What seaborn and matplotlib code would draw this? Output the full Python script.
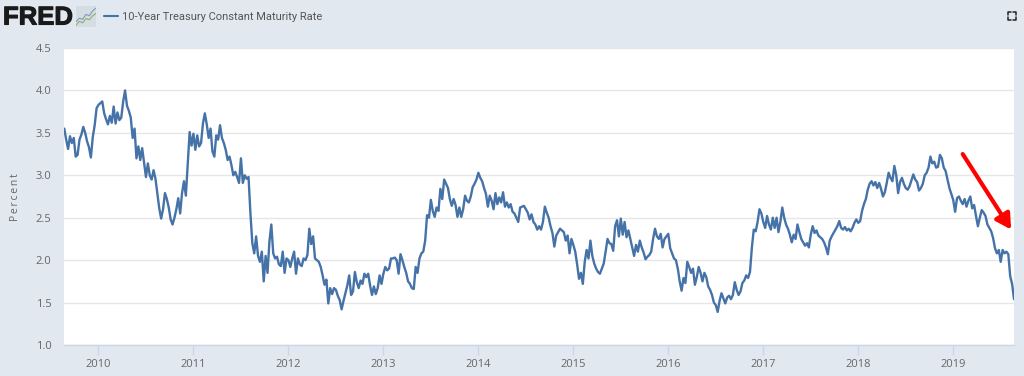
import matplotlib
matplotlib.use('Agg')
import matplotlib.pyplot as plt
import matplotlib.patheffects as pe
import pandas as pd
import seaborn as sns
from matplotlib.lines import Line2D

# taux, un releve tous les 0.02 an
rates_2009 = [3.55, 3.42, 3.31, 3.46, 3.38, 3.44, 3.22, 3.24, 3.42, 3.48, 3.57, 3.50, 3.40, 3.33, 3.21, 3.45, 3.59, 3.79]
rates_2010 = [3.83, 3.85, 3.87, 3.73, 3.66, 3.60, 3.70, 3.62, 3.81, 3.61,
              3.74, 3.65, 3.68, 3.87, 4.00, 3.82, 3.76, 3.68, 3.44, 3.55,
              3.20, 3.34, 3.18, 3.32, 3.15, 2.98, 3.14, 3.00, 2.95, 3.06,
              2.96, 2.79, 2.61, 2.49, 2.60, 2.79, 2.72, 2.62, 2.48, 2.42,
              2.50, 2.60, 2.73, 2.55, 2.79, 2.93, 2.76, 3.14, 3.51, 3.35]
rates_2011 = [3.49, 3.30, 3.47, 3.34, 3.38, 3.61, 3.73, 3.60, 3.44, 3.55,
              3.28, 3.22, 3.47, 3.42, 3.59, 3.44, 3.38, 3.30, 3.18, 3.22,
              3.12, 3.00, 3.04, 2.98, 2.91, 3.20, 2.91, 3.00, 2.96, 2.98,
              2.55, 2.20, 2.08, 2.28, 2.05, 1.98, 2.10, 1.75, 2.05, 1.85,
              2.22, 2.42, 2.08, 2.02, 2.04, 1.95, 1.93, 2.10, 1.85, 2.02]
rates_2012 = [2.00, 1.92, 2.02, 2.10, 1.84, 2.02, 1.95, 1.93, 2.02, 2.00,
              2.06, 2.37, 2.19, 2.28, 2.02, 2.00, 1.98, 1.92, 1.82, 1.71,
              1.77, 1.49, 1.67, 1.60, 1.67, 1.65, 1.58, 1.53, 1.42, 1.52,
              1.61, 1.70, 1.82, 1.59, 1.63, 1.86, 1.74, 1.67, 1.76, 1.72,
              1.84, 1.80, 1.84, 1.70, 1.59, 1.69, 1.60, 1.67, 1.82, 1.72]
rates_2013 = [1.84, 1.92, 1.88, 1.90, 2.02, 2.02, 2.03, 2.00, 1.84, 2.07,
              2.00, 1.92, 1.85, 1.75, 1.72, 1.67, 1.66, 1.92, 1.85, 2.02,
              2.08, 2.10, 2.23, 2.53, 2.50, 2.71, 2.58, 2.51, 2.62, 2.58,
              2.84, 2.72, 2.95, 2.90, 2.85, 2.72, 2.64, 2.72, 2.65, 2.51,
              2.62, 2.51, 2.60, 2.76, 2.70, 2.68, 2.75, 2.86, 2.90, 2.95]
rates_2014 = [3.03, 2.97, 2.93, 2.85, 2.78, 2.63, 2.76, 2.70, 2.60, 2.79,
              2.66, 2.74, 2.68, 2.80, 2.63, 2.68, 2.62, 2.66, 2.57, 2.55,
              2.50, 2.45, 2.62, 2.63, 2.64, 2.60, 2.56, 2.48, 2.54, 2.45,
              2.42, 2.36, 2.40, 2.36, 2.45, 2.63, 2.56, 2.50, 2.40, 2.32,
              2.16, 2.29, 2.33, 2.37, 2.35, 2.33, 2.23, 2.29, 2.08, 2.25]
rates_2015 = [2.18, 2.10, 1.95, 1.78, 1.85, 1.72, 1.98, 2.12, 2.02, 2.23,
              2.05, 1.96, 1.90, 1.86, 1.84, 1.90, 1.96, 2.10, 2.25, 2.20,
              2.19, 2.11, 2.40, 2.47, 2.28, 2.49, 2.30, 2.45, 2.27, 2.35,
              2.25, 2.15, 2.05, 2.18, 2.10, 2.23, 2.15, 2.09, 2.01, 2.04,
              2.06, 2.10, 2.25, 2.37, 2.28, 2.25, 2.31, 2.15, 2.25, 2.28]
rates_2016 = [2.31, 2.14, 2.08, 2.02, 2.00, 1.90, 1.75, 1.64, 1.79, 1.73,
              1.98, 1.92, 1.85, 1.90, 1.71, 1.80, 1.92, 1.85, 1.75, 1.85,
              1.80, 1.69, 1.65, 1.59, 1.50, 1.47, 1.39, 1.52, 1.61, 1.55,
              1.49, 1.56, 1.58, 1.54, 1.59, 1.74, 1.65, 1.59, 1.63, 1.73,
              1.76, 1.82, 1.79, 1.86, 2.15, 2.36, 2.34, 2.45, 2.60, 2.55]
rates_2017 = [2.45, 2.38, 2.52, 2.42, 2.36, 2.50, 2.38, 2.50, 2.33, 2.45,
              2.62, 2.50, 2.42, 2.37, 2.30, 2.21, 2.30, 2.25, 2.42, 2.33,
              2.25, 2.21, 2.17, 2.20, 2.15, 2.30, 2.40, 2.32, 2.35, 2.29,
              2.27, 2.25, 2.21, 2.15, 2.07, 2.23, 2.28, 2.32, 2.36, 2.40,
              2.46, 2.38, 2.36, 2.39, 2.35, 2.37, 2.34, 2.38, 2.44, 2.48]
rates_2018 = [2.44, 2.46, 2.58, 2.66, 2.72, 2.83, 2.90, 2.93, 2.88, 2.92,
              2.85, 2.91, 2.84, 2.75, 2.80, 2.91, 3.03, 2.97, 2.93, 3.11,
              3.00, 2.79, 2.92, 2.97, 2.90, 2.85, 2.83, 2.87, 2.94, 3.01,
              2.95, 2.92, 2.82, 2.85, 2.90, 3.00, 3.03, 3.09, 3.22, 3.14,
              3.16, 3.09, 3.10, 3.24, 3.20, 3.09, 3.05, 2.95, 2.85, 2.78]
rates_2019 = [2.71, 2.57, 2.73, 2.75, 2.70, 2.66, 2.72, 2.63, 2.70, 2.75,
              2.61, 2.65, 2.52, 2.40, 2.50, 2.59, 2.56, 2.52, 2.42, 2.38,
              2.34, 2.26, 2.14, 2.08, 2.12, 1.98, 2.12, 2.08, 2.10, 2.07,
              1.81, 1.72, 1.54]

year_ticks = [2010, 2011, 2012, 2013, 2014, 2015, 2016, 2017, 2018, 2019]
percent_ticks = [1.0, 1.5, 2.0, 2.5, 3.0, 3.5, 4.0, 4.5]
series_name = '10-Year Treasury Constant Maturity Rate'

# petite icone a cote du logo
icon_x = [0, 1, 2, 3, 4, 5, 6]
icon_blue = [1.5, 2.5, 2.2, 3.6, 3.2, 4.6, 5.4]
icon_green = [0.5, 1.6, 1.2, 2.4, 2.1, 3.2, 3.9]

# date de chaque releve
chunks = [(2009.64, rates_2009), (2010, rates_2010), (2011, rates_2011), (2012, rates_2012),
          (2013, rates_2013), (2014, rates_2014), (2015, rates_2015), (2016, rates_2016),
          (2017, rates_2017), (2018, rates_2018), (2019, rates_2019)]
rows = []
for start, values in chunks:
    for i, v in enumerate(values):
        rows.append({'year': start + i * 0.02, 'rate': v})
df = pd.DataFrame(rows)

BG = '#e1e8f0'
BLUE = '#4572a7'
GREY = '#666666'

sns.set_theme(style='white')
plt.rcParams['font.family'] = ['Open Sans', 'DejaVu Sans']

fig = plt.figure(figsize=(10.24, 3.76), dpi=100, facecolor=BG)
ax = fig.add_axes([64 / 1024, 1 - 345 / 376, 950 / 1024, 297 / 376], facecolor='white')

sns.lineplot(data=df, x='year', y='rate', color=BLUE, linewidth=1.7, ax=ax)

ax.set_xlim(2009.637, 2019.64)
ax.set_ylim(1.0, 4.5)
ax.set_xticks(year_ticks)
ax.set_yticks(percent_ticks)
ax.set_yticklabels([f'{v:.1f}' for v in percent_ticks])
ax.set_xlabel('')
ax.set_ylabel('')
ax.grid(axis='y', color='#e6e6e6', linewidth=1)
ax.set_axisbelow(True)
ax.tick_params(axis='x', length=7, width=1, color='#ccd6eb', labelsize=8, labelcolor=GREY, pad=3, bottom=True)
ax.tick_params(axis='y', length=0, labelsize=8, labelcolor=GREY, pad=9)
for side in ['top', 'left', 'right']:
    ax.spines[side].set_visible(False)
ax.spines['bottom'].set_color('#ccd6eb')
ax.spines['bottom'].set_linewidth(1)

fig.text(15 / 1024, 1 - 197 / 376, '\u2009'.join('Percent'), rotation=90, fontsize=7.5, color=GREY,
         ha='center', va='center')

# fleche rouge
ax.annotate('', xy=(2019.61, 2.36), xytext=(2019.10, 3.25),
            arrowprops=dict(arrowstyle='-|>,head_width=0.42,head_length=0.75', color='#ff0000', lw=3,
                            shrinkA=0, shrinkB=0))

# en-tete
fred = fig.text(3 / 1024, 1 - 17.5 / 376, 'FRED', fontsize=18.5, fontweight='bold', color='#1a1a1a',
                fontfamily='Liberation Sans', ha='left', va='center')
fred.set_path_effects([pe.withStroke(linewidth=0.8, foreground='#1a1a1a')])

icon = fig.add_axes([76 / 1024, 1 - 27 / 376, 20 / 1024, 21 / 376], facecolor='#d5dde4')
sns.lineplot(x=icon_x, y=icon_blue, color='#7f9db9', linewidth=0.8, ax=icon)
sns.lineplot(x=icon_x, y=icon_green, color='#8fb26a', linewidth=0.8, ax=icon)
icon.set_xlim(0, 6)
icon.set_ylim(0, 6)
icon.set_xticks([])
icon.set_yticks([])
icon.set_xlabel('')
icon.set_ylabel('')
for side in icon.spines:
    icon.spines[side].set_visible(False)

fig.add_artist(Line2D([104 / 1024, 118 / 1024], [1 - 16 / 376, 1 - 16 / 376], color=BLUE, linewidth=1.5))
fig.text(122 / 1024, 1 - 17 / 376, series_name, fontsize=8.05, color='#555555', fontfamily='Roboto',
         ha='left', va='center')

# icone plein ecran
cx, cy, r, t = 1012, 16, 4, 3
for sx in (-1, 1):
    for sy in (-1, 1):
        xs = [(cx + sx * (r - t)) / 1024, (cx + sx * r) / 1024, (cx + sx * r) / 1024]
        ys = [1 - (cy + sy * r) / 376, 1 - (cy + sy * r) / 376, 1 - (cy + sy * (r - t)) / 376]
        fig.add_artist(Line2D(xs, ys, color='#222222', linewidth=1.1))

fig.savefig('out.png', dpi=100, facecolor=BG)
